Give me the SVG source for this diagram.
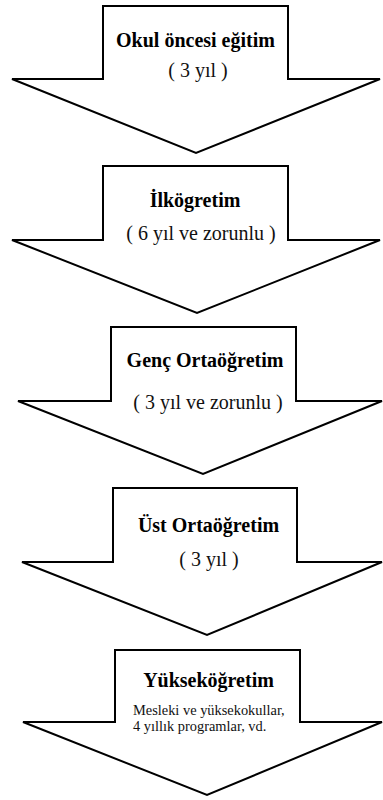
<svg xmlns="http://www.w3.org/2000/svg" width="383" height="800" viewBox="0 0 383 800">
<style>
.arrow{fill:#fff;stroke:#000;stroke-width:2;stroke-linejoin:miter}
text{font-family:'Liberation Serif','Times New Roman',Tinos,'DejaVu Serif',serif}
.t{font-size:20px;font-weight:bold;fill:#000;text-anchor:middle}
.s{font-size:20px;fill:#111;text-anchor:middle}
.m{font-size:14.4px;fill:#111}
</style>
<rect width="383" height="800" fill="#fff"/>
<g id="connectors"></g>
<g id="node1">
<polygon class="arrow" points="103,6 288,6 288,79 380,79 196,153 12,79 103,79"/>
<text class="t" x="195.5" y="47" font-family="Liberation Serif">Okul öncesi eğitim</text>
<text class="s" x="198" y="77" font-family="Liberation Serif">( 3 yıl )</text>
</g>
<g id="node2">
<polygon class="arrow" points="103,166 288,166 288,240 380,240 197,313 12,240 103,240"/>
<text class="t" x="195" y="207" font-family="Liberation Serif">İlkögretim</text>
<text class="s" x="201" y="240" font-family="Liberation Serif">( 6 yıl ve zorunlu )</text>
</g>
<g id="node3">
<polygon class="arrow" points="111,327 296,327 296,401 382,401 203,474 18,401 111,401"/>
<text class="t" x="205" y="367" font-family="Liberation Serif">Genç Ortaöğretim</text>
<text class="s" x="208" y="409" font-family="Liberation Serif">( 3 yıl ve zorunlu )</text>
</g>
<g id="node4">
<polygon class="arrow" points="113,488 297,488 297,562 382,562 207,635 22,562 113,562"/>
<text class="t" x="208.5" y="532" font-family="Liberation Serif">Üst Ortaöğretim</text>
<text class="s" x="209" y="566" font-family="Liberation Serif">( 3 yıl )</text>
</g>
<g id="node5">
<polygon class="arrow" points="115,650 300,650 300,722 382,722 207,795 23,722 115,722"/>
<text class="t" x="208.5" y="687" font-family="Liberation Serif">Yükseköğretim</text>
<text class="m" x="133" y="715" font-family="Liberation Serif">Mesleki ve yüksekokullar,</text>
<text class="m" x="133" y="731" font-family="Liberation Serif">4 yıllık programlar, vd.</text>
</g>
</svg>
